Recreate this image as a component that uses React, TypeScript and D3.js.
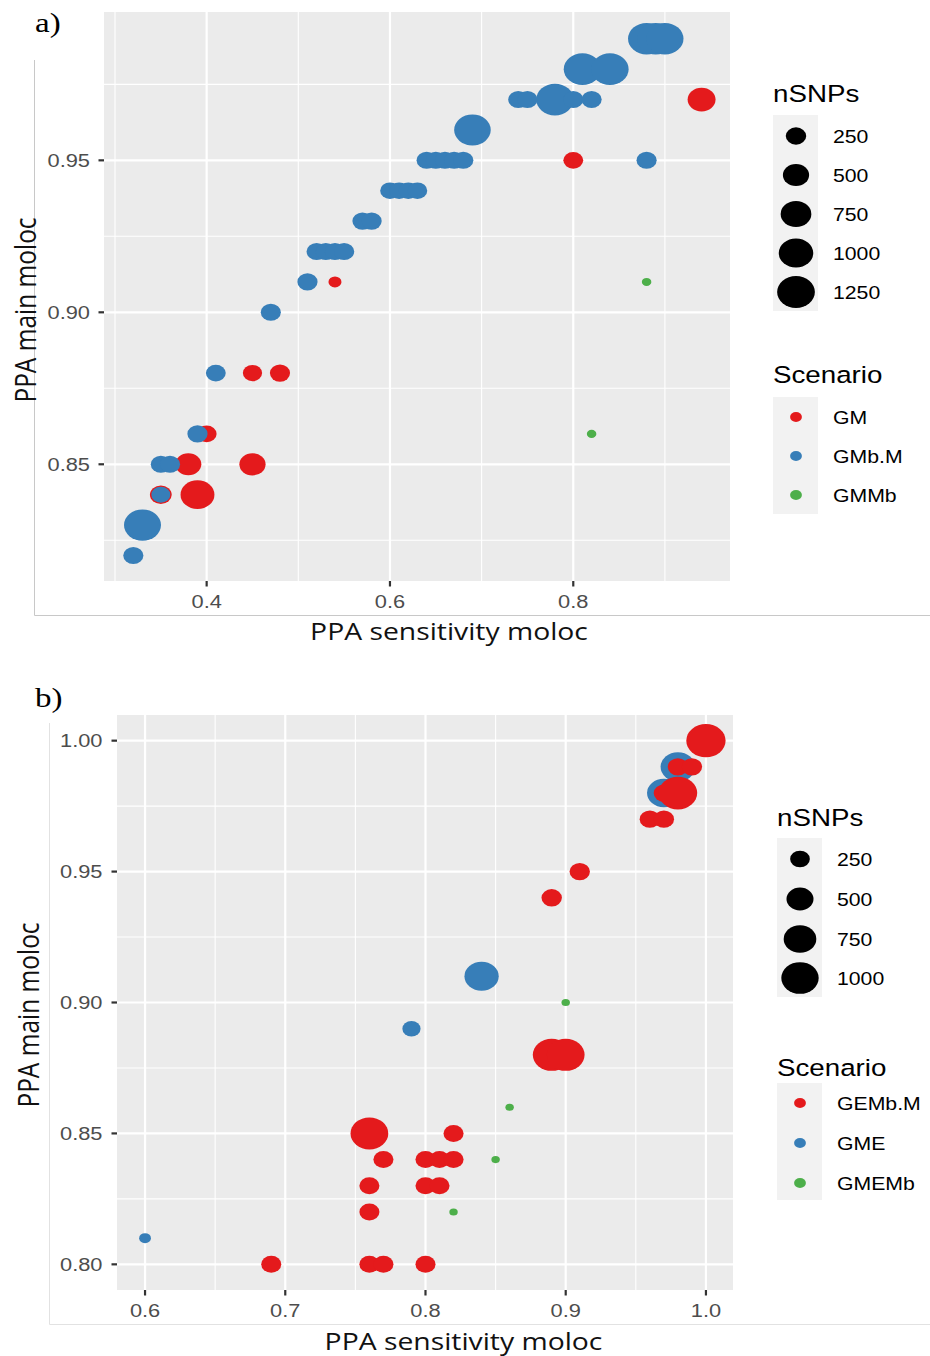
import React from "react";
import * as d3 from "d3";

// ---------- Panel a data ----------
const aScenarioNames = ["GM", "GMb.M", "GMMb"];
const aGM_x = [0.54, 0.80, 0.94, 0.45, 0.48, 0.40, 0.38, 0.45, 0.35, 0.39];
const aGM_y = [0.91, 0.95, 0.97, 0.88, 0.88, 0.86, 0.85, 0.85, 0.84, 0.84];
const aGM_n = [55, 230, 590, 210, 240, 230, 490, 500, 300, 960];

const aGMbM_x = [0.88, 0.89, 0.90, 0.81, 0.84, 0.74, 0.75, 0.78, 0.80, 0.82, 0.69, 0.64, 0.65, 0.66, 0.67, 0.68, 0.88, 0.60, 0.61, 0.62, 0.63, 0.57, 0.58, 0.52, 0.53, 0.54, 0.55, 0.51, 0.47, 0.41, 0.39, 0.35, 0.36, 0.35, 0.33, 0.32];
const aGMbM_y = [0.99, 0.99, 0.99, 0.98, 0.98, 0.97, 0.97, 0.97, 0.97, 0.97, 0.96, 0.95, 0.95, 0.95, 0.95, 0.95, 0.95, 0.94, 0.94, 0.94, 0.94, 0.93, 0.93, 0.92, 0.92, 0.92, 0.92, 0.91, 0.90, 0.88, 0.86, 0.85, 0.85, 0.84, 0.83, 0.82];
const aGMbM_n = [1200, 1200, 1200, 1220, 1220, 240, 240, 1220, 240, 240, 1160, 240, 240, 240, 240, 240, 240, 220, 220, 220, 220, 240, 240, 240, 240, 240, 240, 240, 240, 230, 240, 240, 240, 200, 1190, 240];

const aGMMb_x = [0.88, 0.82];
const aGMMb_y = [0.91, 0.86];
const aGMMb_n = [12, 12];

const aXTicks = [0.4, 0.6, 0.8];
const aXMinor = [0.3, 0.5, 0.7, 0.9];
const aYTicks = [0.85, 0.90, 0.95];
const aYMinor = [0.825, 0.875, 0.925, 0.975];
const aSizeBreaks = [250, 500, 750, 1000, 1250];

// ---------- Panel b data ----------
const bScenarioNames = ["GEMb.M", "GME", "GMEMb"];
const bGEMbM_x = [1.00, 0.98, 0.99, 0.97, 0.98, 0.96, 0.97, 0.91, 0.89, 0.89, 0.90, 0.76, 0.82, 0.77, 0.80, 0.81, 0.82, 0.76, 0.80, 0.81, 0.76, 0.69, 0.76, 0.77, 0.80];
const bGEMbM_y = [1.00, 0.99, 0.99, 0.98, 0.98, 0.97, 0.97, 0.95, 0.94, 0.88, 0.88, 0.85, 0.85, 0.84, 0.84, 0.84, 0.84, 0.83, 0.83, 0.83, 0.82, 0.80, 0.80, 0.80, 0.80];
const bGEMbM_n = [1110, 270, 270, 270, 1070, 270, 270, 270, 270, 1020, 1020, 1020, 260, 260, 260, 260, 260, 260, 260, 260, 260, 260, 260, 260, 260];

const bGME_x = [0.98, 0.97, 0.84, 0.79, 0.60];
const bGME_y = [0.99, 0.98, 0.91, 0.89, 0.81];
const bGME_n = [850, 800, 830, 210, 77];

const bGMEMb_x = [0.90, 0.86, 0.85, 0.82];
const bGMEMb_y = [0.90, 0.86, 0.84, 0.82];
const bGMEMb_n = [33, 33, 33, 33];

const bXTicks = [0.6, 0.7, 0.8, 0.9, 1.0];
const bXMinor = [0.65, 0.75, 0.85, 0.95];
const bYTicks = [0.80, 0.85, 0.90, 0.95, 1.00];
const bYMinor = [0.825, 0.875, 0.925, 0.975];
const bSizeBreaks = [250, 500, 750, 1000];

const RED = "#E41A1C";
const BLUE = "#377EB8";
const GREEN = "#4DAF4A";
const SX = 1.18; // horizontal stretch of the reference image
const SANS = "'Liberation Sans', Arial, Helvetica, sans-serif";

type Pt = { x: number; y: number; n: number; c: string };

function zip(xs: number[], ys: number[], ns: number[], c: string): Pt[] {
  return xs.map((x, i) => ({ x, y: ys[i], n: ns[i], c }));
}

function SText(props: { x: number; y: number; children: any; size: number; anchor?: string; family?: string; fill?: string; rotate?: boolean }) {
  const { x, y, size, anchor = "start", family = SANS, fill = "#000", rotate = false } = props;
  return (
    <text
      transform={`translate(${x},${y}) scale(${SX},1)${rotate ? " rotate(-90)" : ""}`}
      fontSize={size}
      fontFamily={family}
      fill={fill}
      textAnchor={anchor}
    >
      {props.children}
    </text>
  );
}

type PanelCfg = {
  left: number; right: number; top: number; bottom: number;
  xDom: [number, number]; yDom: [number, number];
  xTicks: number[]; xMinor: number[]; yTicks: number[]; yMinor: number[];
  xFmt: (v: number) => string; yFmt: (v: number) => string;
  sizeMax: number; dMin: number; dMax: number;
  layers: Pt[][];
  yLabelRight: number; xLabelBase: number;
  xTitleX: number; xTitleY: number; yTitleX: number; yTitleY: number;
  legX: number; legLabelX: number; sizeTitleY: number; sizeBox: [number, number]; sizeKeys: number[]; sizeBreaks: number[];
  scenTitleY: number; scenBox: [number, number]; scenKeys: number[]; scenNames: string[];
  frameX: number; frameTop: number; frameBottom: number; frameColor: string;
  tag: string; tagY: number;
};

function Panel({ cfg }: { cfg: PanelCfg }) {
  const x = d3.scaleLinear().domain(cfg.xDom).range([cfg.left, cfg.right]);
  const y = d3.scaleLinear().domain(cfg.yDom).range([cfg.bottom, cfg.top]);
  const size = d3.scaleSqrt().domain([0, cfg.sizeMax]).range([cfg.dMin, cfg.dMax]);
  const keyW = 45;
  const keyCx = cfg.legX + keyW / 2 + 0.5;
  const cols = [RED, BLUE, GREEN];
  return (
    <g>
      {/* figure frame */}
      <line x1={cfg.frameX} x2={cfg.frameX} y1={cfg.frameTop} y2={cfg.frameBottom} stroke={cfg.frameColor} strokeWidth={1} />
      <line x1={cfg.frameX} x2={930} y1={cfg.frameBottom} y2={cfg.frameBottom} stroke={cfg.frameColor} strokeWidth={1} />
      <SText x={35} y={cfg.tagY} size={28} family="'Liberation Serif', 'Times New Roman', serif">{cfg.tag}</SText>

      {/* panel */}
      <rect x={cfg.left} y={cfg.top} width={cfg.right - cfg.left} height={cfg.bottom - cfg.top} fill="#EBEBEB" />
      {cfg.xMinor.map((v) => (
        <line key={"xm" + v} x1={x(v)} x2={x(v)} y1={cfg.top} y2={cfg.bottom} stroke="#fff" strokeWidth={1.1} />
      ))}
      {cfg.yMinor.map((v) => (
        <line key={"ym" + v} x1={cfg.left} x2={cfg.right} y1={y(v)} y2={y(v)} stroke="#fff" strokeWidth={1.1} />
      ))}
      {cfg.xTicks.map((v) => (
        <line key={"xM" + v} x1={x(v)} x2={x(v)} y1={cfg.top} y2={cfg.bottom} stroke="#fff" strokeWidth={2.2} />
      ))}
      {cfg.yTicks.map((v) => (
        <line key={"yM" + v} x1={cfg.left} x2={cfg.right} y1={y(v)} y2={y(v)} stroke="#fff" strokeWidth={2.2} />
      ))}

      {/* points */}
      {cfg.layers.map((layer, li) => (
        <g key={"l" + li}>
          {layer.map((p, i) => {
            const d = size(p.n);
            return <ellipse key={i} cx={x(p.x)} cy={y(p.y)} rx={(d / 2) * SX} ry={d / 2} fill={p.c} />;
          })}
        </g>
      ))}

      {/* axes ticks */}
      {cfg.xTicks.map((v) => (
        <g key={"xt" + v}>
          <line x1={x(v)} x2={x(v)} y1={cfg.bottom} y2={cfg.bottom + 5.5} stroke="#333" strokeWidth={2.2} />
          <SText x={x(v)} y={cfg.xLabelBase} size={18.5} anchor="middle" fill="#4D4D4D">{cfg.xFmt(v)}</SText>
        </g>
      ))}
      {cfg.yTicks.map((v) => (
        <g key={"yt" + v}>
          <line x1={cfg.left - 5.5} x2={cfg.left} y1={y(v)} y2={y(v)} stroke="#333" strokeWidth={2.2} />
          <SText x={cfg.yLabelRight} y={y(v) + 6.7} size={18.5} anchor="end" fill="#4D4D4D">{cfg.yFmt(v)}</SText>
        </g>
      ))}

      {/* axis titles */}
      <SText x={cfg.xTitleX} y={cfg.xTitleY} size={24} anchor="middle" family="'Open Sans', 'Noto Sans', sans-serif" fill="#111">PPA sensitivity moloc</SText>
      <SText x={cfg.yTitleX} y={cfg.yTitleY} size={24.5} anchor="middle" family="'Open Sans', 'Noto Sans', sans-serif" fill="#111" rotate>PPA main moloc</SText>

      {/* size legend */}
      <SText x={cfg.legX} y={cfg.sizeTitleY} size={23.5}>nSNPs</SText>
      <rect x={cfg.legX} y={cfg.sizeBox[0]} width={keyW} height={cfg.sizeBox[1] - cfg.sizeBox[0]} fill="#F2F2F2" />
      {cfg.sizeBreaks.map((b, i) => {
        const d = size(b);
        return (
          <g key={"sb" + b}>
            <ellipse cx={keyCx} cy={cfg.sizeKeys[i]} rx={(d / 2) * SX} ry={d / 2} fill="#000" />
            <SText x={cfg.legLabelX} y={cfg.sizeKeys[i] + 7} size={18}>{String(b)}</SText>
          </g>
        );
      })}

      {/* scenario legend */}
      <SText x={cfg.legX} y={cfg.scenTitleY} size={23.5}>Scenario</SText>
      <rect x={cfg.legX} y={cfg.scenBox[0]} width={keyW} height={cfg.scenBox[1] - cfg.scenBox[0]} fill="#F2F2F2" />
      {cfg.scenNames.map((s, i) => (
        <g key={"sc" + s}>
          <ellipse cx={keyCx} cy={cfg.scenKeys[i]} rx={5 * SX} ry={5} fill={cols[i]} />
          <SText x={cfg.legLabelX} y={cfg.scenKeys[i] + 7} size={18}>{s}</SText>
        </g>
      ))}
    </g>
  );
}

export default function App() {
  const fmt2 = d3.format(".2f");
  const fmt1 = d3.format(".1f");

  const cfgA: PanelCfg = {
    left: 104, right: 730, top: 12, bottom: 581,
    xDom: [0.288, 0.971], yDom: [0.8116, 0.9988],
    xTicks: aXTicks, xMinor: aXMinor, yTicks: aYTicks, yMinor: aYMinor,
    xFmt: fmt1, yFmt: fmt2,
    sizeMax: 1250, dMin: 5.45, dMax: 32,
    layers: [zip(aGM_x, aGM_y, aGM_n, RED), zip(aGMbM_x, aGMbM_y, aGMbM_n, BLUE), zip(aGMMb_x, aGMMb_y, aGMMb_n, GREEN)],
    yLabelRight: 90, xLabelBase: 607.5,
    xTitleX: 449, xTitleY: 640, yTitleX: 36, yTitleY: 310,
    legX: 773, legLabelX: 833, sizeTitleY: 101.5, sizeBox: [115, 311], sizeKeys: [136, 175, 214, 253, 292], sizeBreaks: aSizeBreaks,
    scenTitleY: 382.5, scenBox: [397, 514], scenKeys: [417, 456, 495], scenNames: aScenarioNames,
    frameX: 34.5, frameTop: 60, frameBottom: 615.5, frameColor: "#C8C8C8",
    tag: "a)", tagY: 31.5,
  };

  const cfgB: PanelCfg = {
    left: 117, right: 733, top: 715, bottom: 1290,
    xDom: [0.58, 1.0193], yDom: [0.7902, 1.0098],
    xTicks: bXTicks, xMinor: bXMinor, yTicks: bYTicks, yMinor: bYMinor,
    xFmt: fmt1, yFmt: fmt2,
    sizeMax: 1000, dMin: 1.7, dMax: 31.7,
    layers: [zip(bGME_x, bGME_y, bGME_n, BLUE), zip(bGEMbM_x, bGEMbM_y, bGEMbM_n, RED), zip(bGMEMb_x, bGMEMb_y, bGMEMb_n, GREEN)],
    yLabelRight: 102.5, xLabelBase: 1316.5,
    xTitleX: 463.5, xTitleY: 1350, yTitleX: 39, yTitleY: 1015,
    legX: 777, legLabelX: 837, sizeTitleY: 825.5, sizeBox: [838, 997], sizeKeys: [859, 899, 939, 978], sizeBreaks: bSizeBreaks,
    scenTitleY: 1076, scenBox: [1083, 1200], scenKeys: [1103, 1143, 1183], scenNames: bScenarioNames,
    frameX: 49.5, frameTop: 723, frameBottom: 1324.5, frameColor: "#E2E2E2",
    tag: "b)", tagY: 706.5,
  };

  return (
    <svg width={930} height={1356} style={{ position: "absolute", left: 0, top: 0, background: "#fff" }}>
      <rect x={0} y={0} width={930} height={1356} fill="#fff" />
      <Panel cfg={cfgA} />
      <Panel cfg={cfgB} />
    </svg>
  );
}
